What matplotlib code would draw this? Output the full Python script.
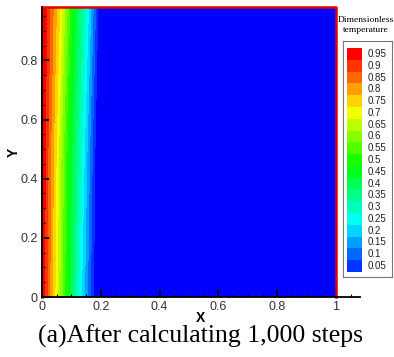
import numpy as np
import matplotlib
matplotlib.use('Agg')
import matplotlib.pyplot as plt
from matplotlib.colors import LinearSegmentedColormap

# temperature of each contour column, and where it sits at three heights
T_cols = [1.0, 0.95, 0.75, 0.5, 0.3, 0.05, 0.0]
x_bottom = [0.0, 0.009, 0.044, 0.085, 0.124, 0.175, 1.0]
x_middle = [0.0, 0.011, 0.048, 0.090, 0.135, 0.180, 1.0]
x_top = [0.0, 0.016, 0.060, 0.103, 0.150, 0.190, 1.0]
y_rows = [0.0, 0.49, 0.98]

levels = [round(0.05 * i, 2) for i in range(21)]
legend_vals = [0.95, 0.9, 0.85, 0.8, 0.75, 0.7, 0.65, 0.6, 0.55, 0.5,
               0.45, 0.4, 0.35, 0.3, 0.25, 0.2, 0.15, 0.1, 0.05]

cmap = LinearSegmentedColormap.from_list(
    'rainbow5', ['#0000ff', '#00ffff', '#00ff00', '#ffff00', '#ff0000'])
band_colors = [cmap(k / 19) for k in range(20)]

X = np.array([x_bottom, x_middle, x_top])
Y = np.repeat(np.array(y_rows)[:, None], len(T_cols), axis=1)
Z = np.tile(T_cols, (len(y_rows), 1))

fig = plt.figure(figsize=(3.94, 3.57), dpi=100)
ax = fig.add_axes([0.1066, 0.168, 0.806, 0.812])

lv = list(levels)
lv[-1] = 1.001
ax.contourf(X, Y, Z, levels=lv, colors=band_colors, antialiased=False)

# domain boundary
ax.plot([0, 0, 1, 1], [0, 0.98, 0.98, 0], color='#e00000', lw=1.8,
        clip_on=False, zorder=3)

ax.set_xlim(0, 1.08)
ax.set_ylim(0, 0.98)
for s in ['top', 'right']:
    ax.spines[s].set_visible(False)
for s in ['left', 'bottom']:
    ax.spines[s].set_linewidth(1.3)
    ax.spines[s].set_zorder(4)

ax.set_xticks([0, 0.2, 0.4, 0.6, 0.8, 1.0])
ax.set_xticklabels(['0', '0.2', '0.4', '0.6', '0.8', '1'])
ax.set_xticks(np.arange(0, 1.06, 0.05), minor=True)
ax.set_yticks([0, 0.2, 0.4, 0.6, 0.8])
ax.set_yticklabels(['0', '0.2', '0.4', '0.6', '0.8'])
ax.set_yticks(np.arange(0, 0.96, 0.05), minor=True)
ax.tick_params(which='major', direction='in', length=5, width=1.3,
               labelsize=9, labelcolor='#333333', pad=3)
ax.tick_params(which='minor', direction='in', length=2.5, width=0.8)
for lab in ax.get_xticklabels() + ax.get_yticklabels():
    lab.set_family('Liberation Sans')

ax.set_xlabel('X', family='Liberation Sans', fontweight='bold', fontsize=10)
ax.set_ylabel('Y', family='Liberation Sans', fontweight='bold', fontsize=10)
ax.xaxis.set_label_coords(0.50, -0.072)
ax.yaxis.set_label_coords(-0.088, 0.5)
ax.xaxis.label.set_va('center')
ax.yaxis.label.set_va('center')

# legend box
cax = fig.add_axes([0.8706, 0.224, 0.1244, 0.661])
cax.set_xlim(0, 1)
cax.set_ylim(0, 1)
cax.set_xticks([])
cax.set_yticks([])
for s in cax.spines.values():
    s.set_color('#777777')
    s.set_linewidth(0.8)
step = (0.945 - 0.047) / 18
for i, v in enumerate(legend_vals):
    yc = 0.945 - i * step
    cax.barh(yc, 0.31, left=0.08, height=step,
             color=band_colors[int(round(v / 0.05))], edgecolor='none')
    cax.text(0.51, yc, f'{v:g}', va='center', ha='left', fontsize=7,
             family='Liberation Sans', color='#222222')

fig.text(366 / 394, 1 - 20 / 357, 'Dimensionless', ha='center', va='center',
         family='Liberation Serif', fontsize=6.8)
fig.text(366 / 394, 1 - 30 / 357, 'temperature', ha='center', va='center',
         family='Liberation Serif', fontsize=6.8)

fig.text(201 / 394, 1 - 336 / 357, '(a)After calculating 1,000 steps',
         ha='center', va='center', family='Liberation Serif', fontsize=18.5)

fig.savefig('out.png', dpi=100)
